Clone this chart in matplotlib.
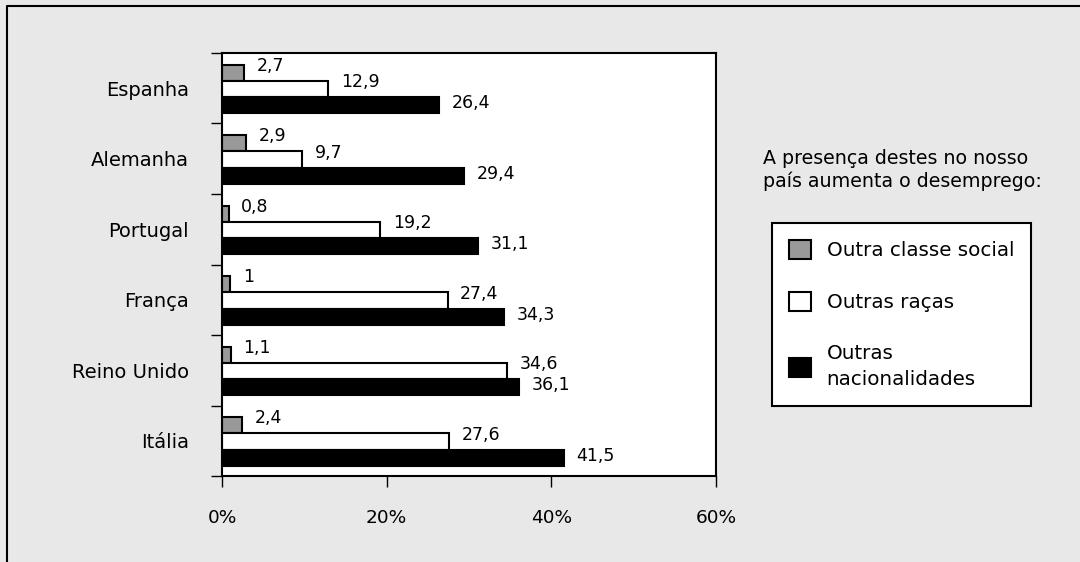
import numpy as np
import matplotlib
matplotlib.use('Agg')
import matplotlib.pyplot as plt
from matplotlib.patches import Patch
from matplotlib.lines import Line2D

paises = ['Espanha', 'Alemanha', 'Portugal', 'França', 'Reino Unido', 'Itália']
classe_social = [2.7, 2.9, 0.8, 1.0, 1.1, 2.4]
racas = [12.9, 9.7, 19.2, 27.4, 34.6, 27.6]
nacionalidades = [26.4, 29.4, 31.1, 34.3, 36.1, 41.5]
series_nomes = ['Outra classe social', 'Outras raças', 'Outras\nnacionalidades']
xticks_vals = [0, 20, 40, 60]

def fmt(v):
    s = ('%.1f' % v).replace('.', ',')
    if s.endswith(',0'):
        s = s[:-2]
    return s

plt.rcParams['font.family'] = 'DejaVu Sans'
bg = '#e8e8e8'
fig = plt.figure(figsize=(10.8, 5.62), dpi=100, facecolor=bg)
ax = fig.add_axes([0.2056, 0.153, 0.4574, 0.7527])
ax.set_facecolor('white')

y = np.arange(len(paises)) + 0.51
h = 0.229
cores = ['#999999', 'white', 'black']
dados = [classe_social, racas, nacionalidades]
desloc = [-h, 0, h]
dy_lab = [5, 5, 1.5]

for k in range(3):
    ax.barh(y + desloc[k], dados[k], height=h, color=cores[k],
            edgecolor='black', linewidth=1.5)
    for i in range(len(paises)):
        ax.annotate(fmt(dados[k][i]), (dados[k][i], y[i] + desloc[k]),
                    xytext=(9, dy_lab[k]), textcoords='offset points',
                    va='center', ha='left', fontsize=12.5)

ax.set_xlim(0, 60)
ax.set_ylim(len(paises), 0)
ax.set_xticks(xticks_vals)
ax.set_xticklabels([str(v) + '%' for v in xticks_vals], fontsize=13.3)
ax.set_yticks(np.arange(len(paises) + 1))
ax.set_yticklabels([])
ax.set_yticks(np.arange(len(paises)) + 0.5, minor=True)
ax.set_yticklabels(paises, minor=True, fontsize=14)
ax.tick_params(axis='y', which='minor', length=0, pad=24)
ax.tick_params(axis='y', which='major', length=8, width=1)
ax.tick_params(axis='x', length=8, width=1, pad=16)
for s in ax.spines.values():
    s.set_linewidth(1.5)

fig.text(0.7065, 1 - 170 / 562, 'A presença destes no nosso\npaís aumenta o desemprego:',
         fontsize=13.7, va='center', ha='left', linespacing=1.25)

handles = [Patch(facecolor=cores[k], edgecolor='black', linewidth=1.5,
                 label=series_nomes[k]) for k in range(3)]
leg = fig.legend(handles=handles, loc='upper left',
                 bbox_to_anchor=(772 / 1080, 1 - 223 / 562),
                 fontsize=14.3, frameon=True, fancybox=False,
                 edgecolor='black', facecolor='white', framealpha=1,
                 handlelength=1.1, handleheight=1.1, labelspacing=1.6,
                 borderpad=0.85, handletextpad=0.8, borderaxespad=0)
leg.get_frame().set_linewidth(1.5)
for t in leg.get_texts():
    t.set_linespacing(1.45)

fig.add_artist(Line2D([7 / 1080, 7 / 1080, 1.0], [0, 1 - 6 / 562, 1 - 6 / 562],
                      transform=fig.transFigure, color='black', linewidth=1.5))

fig.savefig('out.png', dpi=100, facecolor=bg)
